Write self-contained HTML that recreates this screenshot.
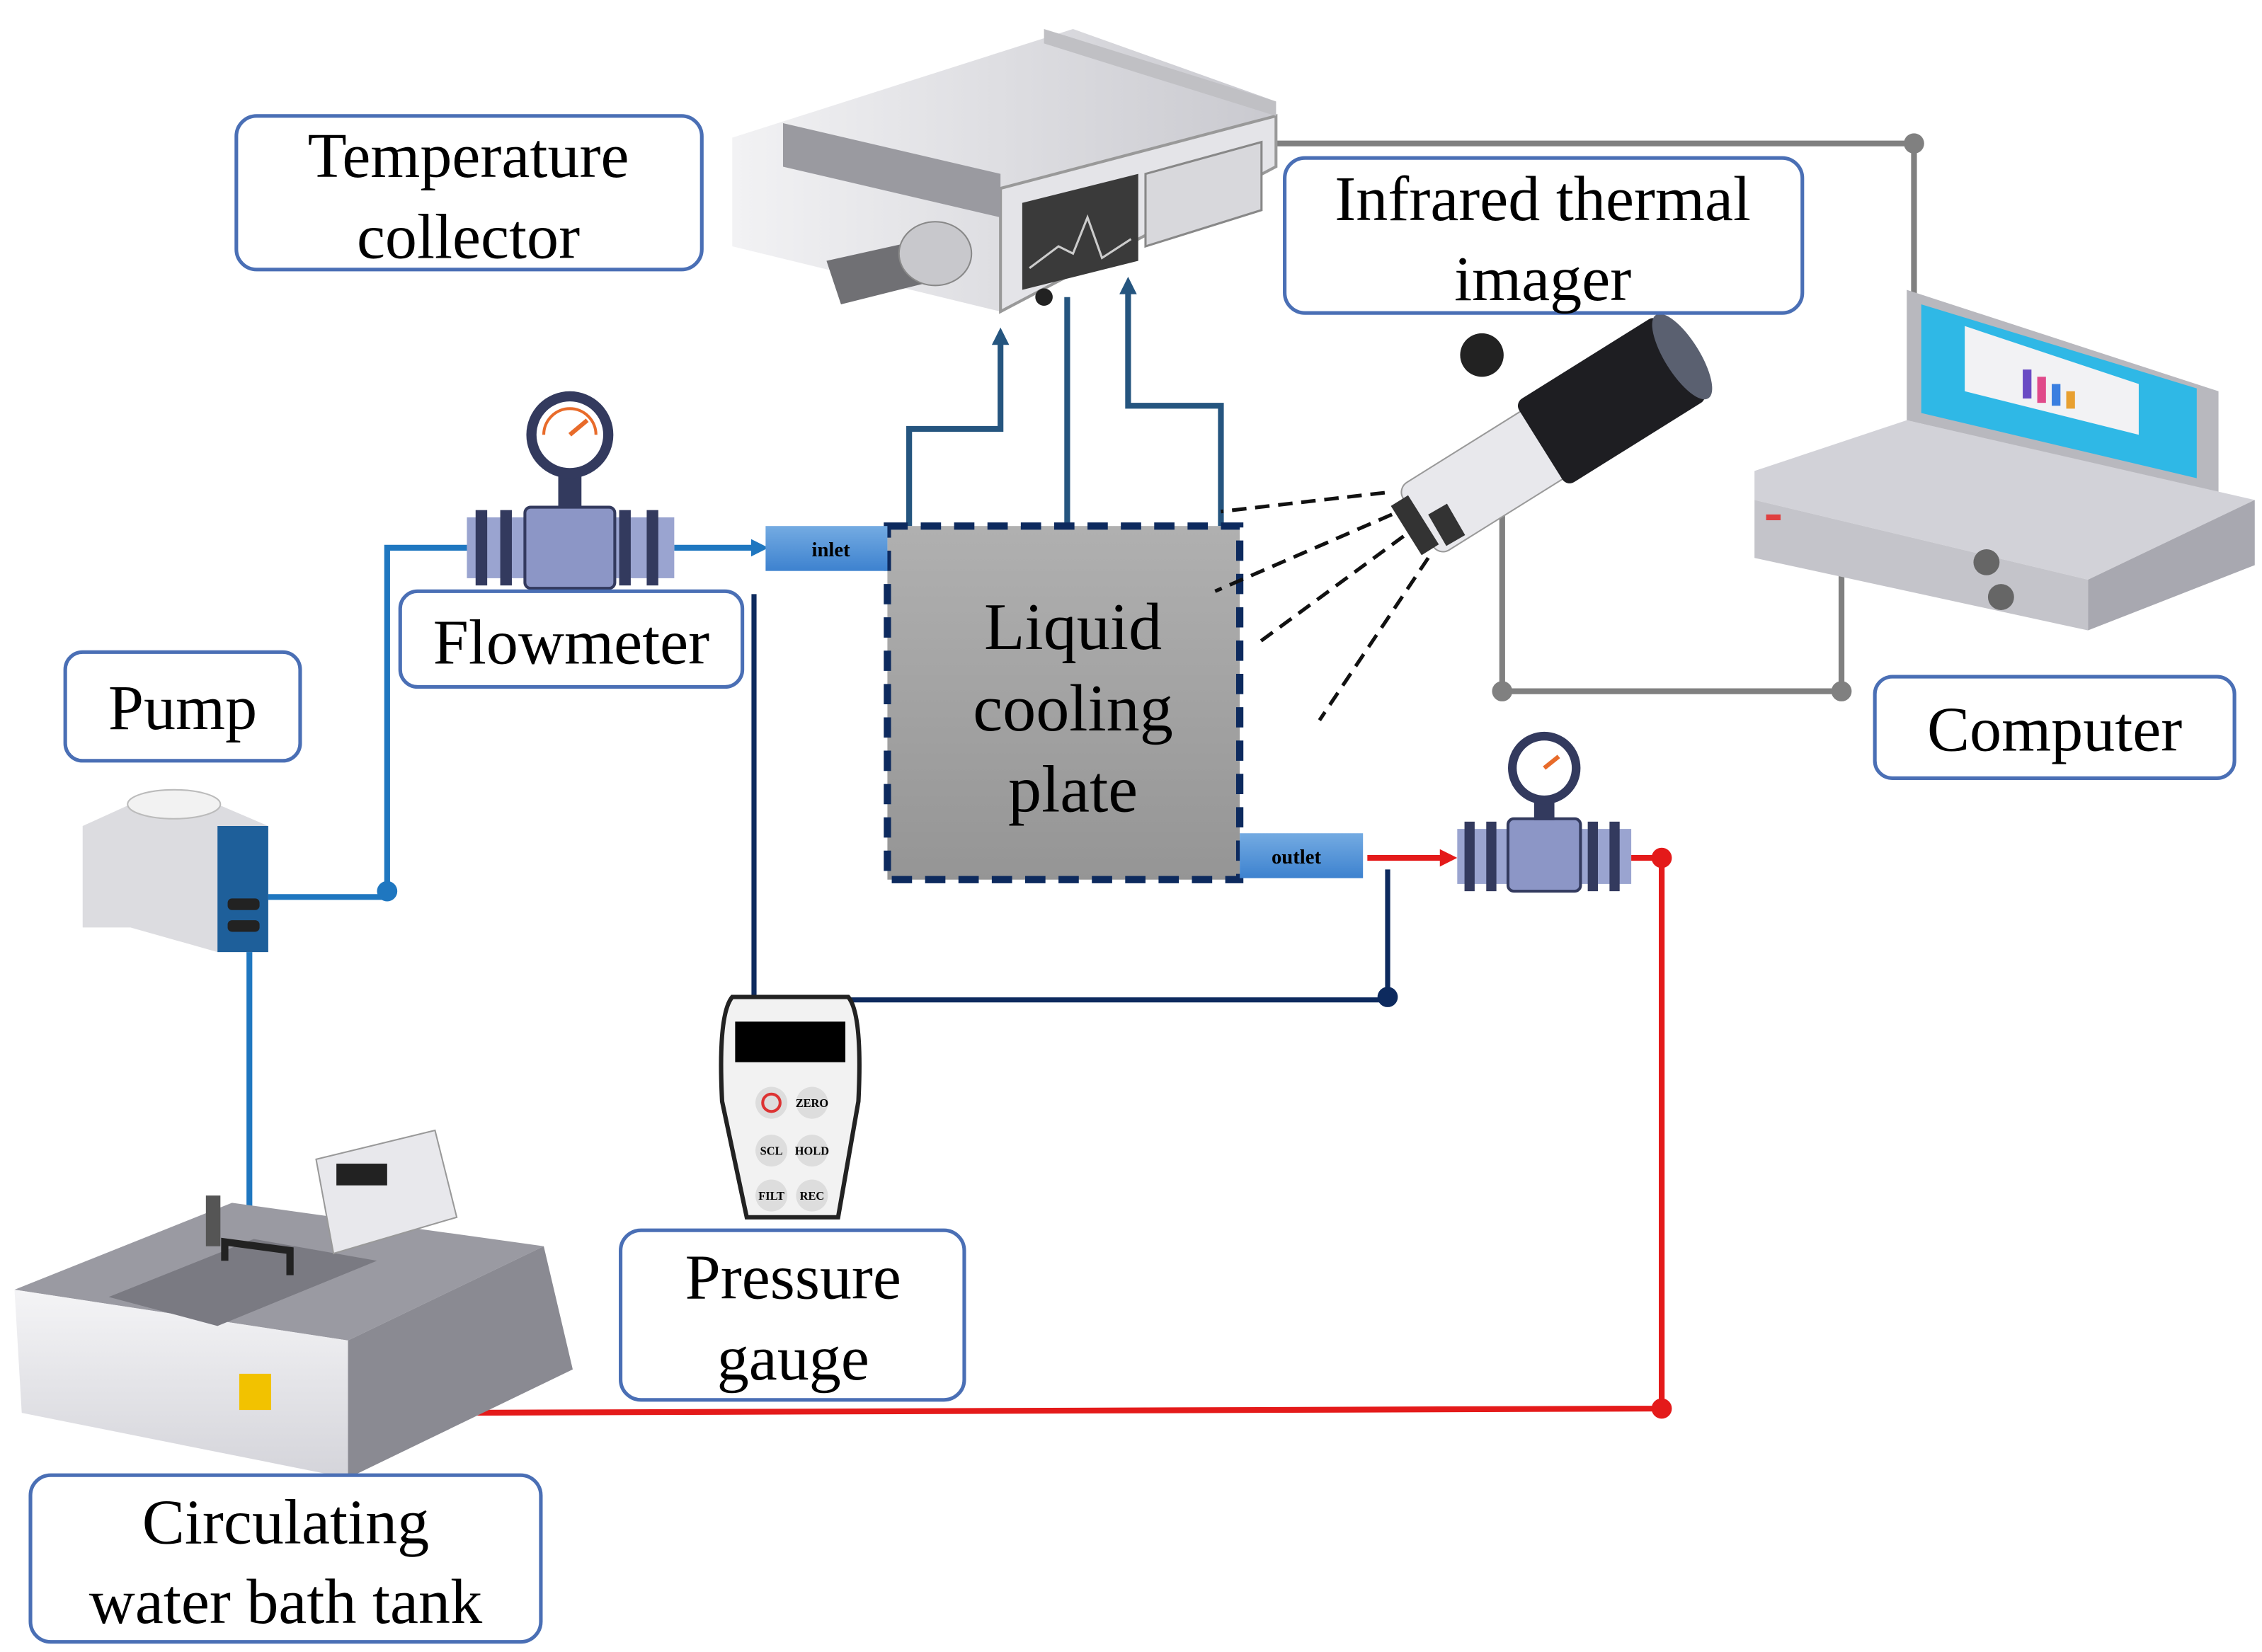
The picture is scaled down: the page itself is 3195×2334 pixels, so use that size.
<!DOCTYPE html>
<html><head><meta charset="utf-8"><style>
html,body{margin:0;padding:0;background:#fff}
svg{display:block}
text{font-family:"Liberation Serif",serif}
</style></head><body>
<svg width="3195" height="2334" viewBox="0 0 1560 1140" preserveAspectRatio="none" xmlns="http://www.w3.org/2000/svg">
<defs>
<linearGradient id="pg" x1="0" y1="0" x2="0" y2="1"><stop offset="0" stop-color="#b0b0b0"/><stop offset="1" stop-color="#959595"/></linearGradient>
<linearGradient id="bg" x1="0" y1="0" x2="0" y2="1"><stop offset="0" stop-color="#74abe2"/><stop offset="1" stop-color="#3d82cf"/></linearGradient>
<linearGradient id="mg" x1="0" y1="0" x2="1" y2="0"><stop offset="0" stop-color="#f2f2f4"/><stop offset="1" stop-color="#c9c9cf"/></linearGradient>
<linearGradient id="tk" x1="0" y1="0" x2="0" y2="1"><stop offset="0" stop-color="#f4f4f6"/><stop offset="1" stop-color="#d4d4da"/></linearGradient>
</defs>

<!-- gray computer lines -->
<g stroke="#808080" stroke-width="4" fill="none">
<polyline points="875,99 1320,99 1320,285"/>
<polyline points="1036,350 1036,477 1270,477 1270,378"/>
</g>
<g fill="#808080"><circle cx="1320" cy="99" r="7"/><circle cx="1036" cy="477" r="7"/><circle cx="1270" cy="477" r="7"/></g>

<!-- temperature collector -->
<polygon points="505,95 740,20 880,70 880,115 690,215 505,170" fill="url(#mg)"/>
<polygon points="690,130 880,80 880,115 690,215" fill="#e4e4e8" stroke="#999" stroke-width="2"/>
<polygon points="705,140 785,120 785,180 705,200" fill="#3a3a3a"/>
<polyline points="710,185 730,170 740,175 750,150 760,178 780,165" stroke="#ccc" stroke-width="1.5" fill="none"/>
<polygon points="790,120 870,98 870,145 790,170" fill="#d8d8dc" stroke="#888" stroke-width="1.5"/>
<polygon points="540,85 690,120 690,150 540,115" fill="#9a9aa0"/>
<polygon points="570,180 660,160 640,195 580,210" fill="#707074"/>
<ellipse cx="645" cy="175" rx="25" ry="22" fill="#c8c8cc" stroke="#888"/>
<polygon points="720,20 880,70 880,80 720,30" fill="#c0c0c4"/>
<circle cx="720" cy="205" r="6" fill="#222"/>

<!-- collector connections -->
<g stroke="#25557f" stroke-width="4" fill="none">
<polyline points="627,363 627,296 690,296 690,235"/>
<polyline points="736,363 736,205"/>
<polyline points="842,363 842,280 778,280 778,200"/>
</g>
<polygon points="684,238 690,226 696,238" fill="#25557f"/>
<polygon points="772,203 778,191 784,203" fill="#25557f"/>

<!-- flowmeter line + pump -->
<g stroke="#1f77c0" stroke-width="4" fill="none">
<polyline points="185,619 267,619 267,378 322,378"/>
<polyline points="465,378 520,378"/>
<polyline points="172,645 172,855"/>
</g>
<polygon points="518,372 530,378 518,384" fill="#1f77c0"/>
<circle cx="267" cy="615" r="7" fill="#1f77c0"/>

<!-- flowmeter 1 -->
<g>
<rect x="322" y="357" width="143" height="42" fill="#9aa4d0"/>
<rect x="328" y="352" width="8" height="52" fill="#333a5e"/><rect x="345" y="352" width="8" height="52" fill="#333a5e"/>
<rect x="427" y="352" width="8" height="52" fill="#333a5e"/><rect x="446" y="352" width="8" height="52" fill="#333a5e"/>
<rect x="362" y="350" width="62" height="56" rx="4" fill="#8c96c6" stroke="#333a5e" stroke-width="2"/>
<rect x="385" y="320" width="16" height="30" fill="#333a5e"/>
<circle cx="393" cy="300" r="30" fill="#333a5e"/><circle cx="393" cy="300" r="23" fill="#fff"/>
<line x1="393" y1="300" x2="405" y2="290" stroke="#e86b2a" stroke-width="3"/>
<path d="M375,300 A18,18 0 0 1 411,300" stroke="#e86b2a" stroke-width="2" fill="none"/>
</g>

<!-- flowmeter 2 -->
<g>
<rect x="1005" y="572" width="120" height="38" fill="#9aa4d0"/>
<rect x="1010" y="567" width="7" height="48" fill="#333a5e"/><rect x="1025" y="567" width="7" height="48" fill="#333a5e"/>
<rect x="1095" y="567" width="7" height="48" fill="#333a5e"/><rect x="1110" y="567" width="7" height="48" fill="#333a5e"/>
<rect x="1040" y="565" width="50" height="50" rx="4" fill="#8c96c6" stroke="#333a5e" stroke-width="2"/>
<rect x="1058" y="548" width="14" height="18" fill="#333a5e"/>
<circle cx="1065" cy="530" r="25" fill="#333a5e"/><circle cx="1065" cy="530" r="19" fill="#fff"/>
<line x1="1065" y1="530" x2="1075" y2="522" stroke="#e86b2a" stroke-width="3"/>
</g>

<!-- red loop -->
<g stroke="#e41a1a" stroke-width="4" fill="none">
<polyline points="943,592 995,592"/>
<polyline points="1125,592 1146,592 1146,972 298,975"/>
</g>
<polygon points="993,586 1005,592 993,598" fill="#e41a1a"/>
<circle cx="1146" cy="592" r="7" fill="#e41a1a"/><circle cx="1146" cy="972" r="7" fill="#e41a1a"/>

<!-- navy pressure lines -->
<g stroke="#0d2a5e" stroke-width="3.5" fill="none">
<polyline points="520,410 520,690 957,690 957,600"/>
</g>
<circle cx="957" cy="688" r="7" fill="#0d2a5e"/>

<!-- plate -->
<rect x="612" y="363" width="243" height="244" fill="url(#pg)" stroke="#0d2a5e" stroke-width="5" stroke-dasharray="14,9"/>
<text x="740" y="448" font-size="46" text-anchor="middle">Liquid</text>
<text x="740" y="504" font-size="46" text-anchor="middle">cooling</text>
<text x="740" y="560" font-size="46" text-anchor="middle">plate</text>
<rect x="528" y="363" width="84" height="31" fill="url(#bg)"/>
<text x="573" y="384" font-size="14" font-weight="bold" text-anchor="middle">inlet</text>
<rect x="855" y="575" width="85" height="31" fill="url(#bg)"/>
<text x="894" y="596" font-size="14" font-weight="bold" text-anchor="middle">outlet</text>

<!-- dashed IR lines -->
<g stroke="#111" stroke-width="2.5" stroke-dasharray="10,6" fill="none">
<line x1="955" y1="340" x2="842" y2="353"/>
<line x1="960" y1="355" x2="838" y2="408"/>
<line x1="968" y1="370" x2="866" y2="445"/>
<line x1="985" y1="385" x2="910" y2="497"/>
</g>

<!-- camera -->
<g transform="rotate(-32 1070 300)">
<rect x="960" y="275" width="170" height="55" rx="8" fill="#e8e8ec" stroke="#999"/>
<rect x="1060" y="268" width="115" height="68" rx="6" fill="#1e1e22"/>
<ellipse cx="1175" cy="302" rx="12" ry="34" fill="#5a6070"/>
<rect x="950" y="283" width="14" height="40" fill="#333"/>
</g>
<circle cx="1022" cy="245" r="15" fill="#222"/>
<rect x="990" y="350" width="15" height="25" fill="#333" transform="rotate(-30 997 362)"/>

<!-- laptop -->
<polygon points="1315,200 1530,270 1530,340 1315,290" fill="#b8b8be"/>
<polygon points="1325,210 1515,268 1515,330 1325,285" fill="#2fb8e6"/>
<polygon points="1355,225 1475,265 1475,300 1355,270" fill="#f2f2f4"/>
<rect x="1395" y="255" width="6" height="20" fill="#6a4bc4"/><rect x="1405" y="260" width="6" height="18" fill="#e04a8a"/><rect x="1415" y="265" width="6" height="15" fill="#3a7fe0"/><rect x="1425" y="270" width="6" height="12" fill="#e8a030"/>
<polygon points="1210,325 1315,290 1555,345 1440,400 1210,345" fill="#d2d2d8"/>
<polygon points="1210,345 1440,400 1440,435 1210,385" fill="#c4c4ca"/>
<polygon points="1440,400 1555,345 1555,390 1440,435" fill="#a8a8b0"/>
<circle cx="1370" cy="388" r="9" fill="#666"/><circle cx="1380" cy="412" r="9" fill="#666"/>
<rect x="1218" y="355" width="10" height="4" fill="#e04040"/>

<!-- pump -->
<polygon points="57,570 90,555 150,555 185,570 185,657 150,657 90,640 57,640" fill="#dcdce0"/>
<polygon points="150,570 185,570 185,657 150,657" fill="#1e5f9a"/>
<ellipse cx="120" cy="555" rx="32" ry="10" fill="#f2f2f2" stroke="#bbb"/>
<rect x="157" y="620" width="22" height="8" rx="3" fill="#222"/><rect x="157" y="635" width="22" height="8" rx="3" fill="#222"/>

<!-- tank -->
<polygon points="10,890 160,830 375,860 240,925" fill="#9a9aa2"/>
<polygon points="10,890 240,925 240,1020 15,975" fill="url(#tk)"/>
<polygon points="240,925 375,860 395,945 240,1020" fill="#8a8a92"/>
<polygon points="75,895 175,855 260,870 150,915" fill="#7a7a82"/>
<polygon points="218,800 300,780 315,840 230,865" fill="#e8e8ec" stroke="#999"/>
<rect x="232" y="803" width="35" height="15" fill="#222"/>
<rect x="142" y="825" width="10" height="35" fill="#555"/>
<polyline points="155,870 155,857 200,863 200,880" stroke="#222" stroke-width="5" fill="none"/>
<rect x="165" y="948" width="22" height="25" fill="#f2c200"/>

<!-- pressure gauge device -->
<path d="M505,688 L585,688 Q595,700 592,760 L578,840 L515,840 L498,760 Q495,700 505,688Z" fill="#f2f2f2" stroke="#222" stroke-width="3"/>
<rect x="507" y="705" width="76" height="28" fill="#000"/>
<g font-size="8" font-weight="bold" text-anchor="middle">
<circle cx="532" cy="761" r="11" fill="#ddd"/><circle cx="560" cy="761" r="11" fill="#ddd"/>
<circle cx="532" cy="794" r="11" fill="#ddd"/><circle cx="560" cy="794" r="11" fill="#ddd"/>
<circle cx="532" cy="825" r="11" fill="#ddd"/><circle cx="560" cy="825" r="11" fill="#ddd"/>
<circle cx="532" cy="761" r="6" fill="none" stroke="#d33" stroke-width="2"/>
<text x="560" y="764">ZERO</text><text x="532" y="797">SCL</text><text x="560" y="797">HOLD</text><text x="532" y="828">FILT</text><text x="560" y="828">REC</text>
</g>

<!-- labels -->
<g fill="#fff" stroke="#4a6fb5" stroke-width="2.5">
<rect x="163" y="80" width="321" height="106" rx="14"/>
<rect x="886" y="109" width="357" height="107" rx="14"/>
<rect x="276" y="408" width="236" height="66" rx="12"/>
<rect x="45" y="450" width="162" height="75" rx="12"/>
<rect x="1293" y="467" width="248" height="70" rx="12"/>
<rect x="428" y="849" width="237" height="117" rx="14"/>
<rect x="21" y="1018" width="352" height="115" rx="14"/>
</g>
<g font-size="44" text-anchor="middle" fill="#000">
<text x="323" y="122">Temperature</text><text x="323" y="178">collector</text>
<text x="1064" y="152">Infrared thermal</text><text x="1064" y="207">imager</text>
<text x="394" y="458">Flowmeter</text>
<text x="126" y="503">Pump</text>
<text x="1417" y="518">Computer</text>
<text x="547" y="896">Pressure</text><text x="547" y="952">gauge</text>
<text x="197" y="1065">Circulating</text><text x="197" y="1120">water bath tank</text>
</g>
</svg>
</body></html>
